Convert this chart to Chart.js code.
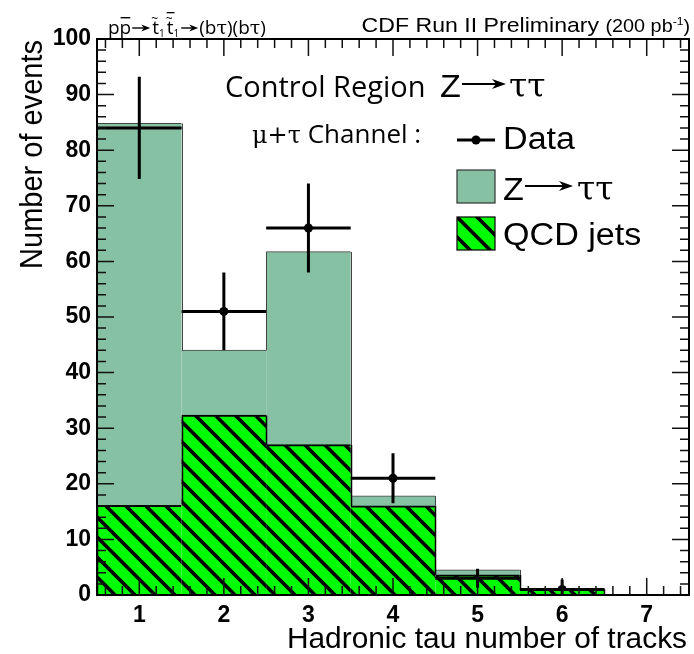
<!DOCTYPE html>
<html><head><meta charset="utf-8">
<script src="https://cdn.jsdelivr.net/npm/chart.js@4/dist/chart.umd.min.js"></script>
<style>html,body{margin:0;padding:0;background:#fff;}canvas{display:block;}</style>
</head><body>
<canvas id="c" width="694" height="654"></canvas>
<script>
// ---- data ----
const nTracks     = [1, 2, 3, 4, 5, 6, 7];
const xTickLabels = ['1', '2', '3', '4', '5', '6', '7'];
const yTickLabels = ['0', '10', '20', '30', '40', '50', '60', '70', '80', '90', '100'];
const qcdJets     = [16.1, 32.3, 27.0, 16.0, 3.6, 1.0, 0];
const zTauTau     = [68.7, 11.7, 34.7, 1.8, 0.9, 0.1, 0];
const dataCounts  = [84, 51, 66, 21, 3, 1, 0];
const dataErrLow  = [9.2, 7.0, 8.0, 4.5, 1.7, 1.0, 0];
const dataErrHigh = [9.2, 7.0, 8.0, 4.5, 1.7, 1.8, 0];

const Z_COLOR = '#86c1a3';
const QCD_GREEN = '#00ff00';
const SANS = '"Liberation Sans", Arial, sans-serif';
const MYR = '"Open Sans", sans-serif';
const SERIF = '"DejaVu Serif", serif';
const STRETCH = 1.1;

function makeHatch() {
  const s = 20, c = document.createElement('canvas');
  c.width = s; c.height = s;
  const g = c.getContext('2d');
  g.fillStyle = QCD_GREEN; g.fillRect(0, 0, s, s);
  g.strokeStyle = '#000'; g.lineWidth = 3.6;
  g.beginPath();
  for (const o of [-s, 0, s]) { g.moveTo(o - s, -s); g.lineTo(o + 2 * s, 2 * s); }
  g.stroke();
  return g.createPattern(c, 'repeat');
}
const hatch = makeHatch();

function arrow(ctx, x1, x2, y, hl, hw, lw) {
  ctx.save();
  ctx.lineWidth = lw; ctx.strokeStyle = '#000'; ctx.fillStyle = '#000';
  ctx.beginPath(); ctx.moveTo(x1, y); ctx.lineTo(x2 - hl * 0.6, y); ctx.stroke();
  ctx.beginPath();
  ctx.moveTo(x2, y); ctx.lineTo(x2 - hl, y - hw / 2); ctx.lineTo(x2 - hl * 0.7, y); ctx.lineTo(x2 - hl, y + hw / 2);
  ctx.closePath(); ctx.fill();
  ctx.restore();
}
function txt(ctx, s, x, y, font, stretch) {
  stretch = stretch || STRETCH;
  ctx.save();
  ctx.font = font;
  ctx.translate(x, y); ctx.scale(stretch, 1);
  ctx.fillText(s, 0, 0);
  const w = ctx.measureText(s).width * stretch;
  ctx.restore();
  return w;
}

// step outlines: vertical edges between bins (histogram contour)
const stepEdges = {
  id: 'stepEdges',
  afterDatasetsDraw(chart) {
    const ctx = chart.ctx, xs = chart.scales.x, ys = chart.scales.y;
    const total = qcdJets.map((q, i) => q + zTauTau[i]);
    const series = [[total, '#444', 1], [qcdJets, '#000', 1.5]];
    ctx.save();
    for (const [h, col, lw] of series) {
      ctx.strokeStyle = col; ctx.lineWidth = lw;
      ctx.beginPath();
      for (let i = 0; i <= h.length; i++) {
        const left = i > 0 ? h[i - 1] : 0, right = i < h.length ? h[i] : 0;
        if (left === right) continue;
        const edge = i < h.length ? nTracks[i] - 0.5 : nTracks[h.length - 1] + 0.5;
        const px = Math.round(xs.getPixelForValue(edge)) + 0.5;
        ctx.moveTo(px, ys.getPixelForValue(Math.min(left, right)));
        ctx.lineTo(px, ys.getPixelForValue(Math.max(left, right)));
      }
      ctx.stroke();
    }
    ctx.restore();
  }
};

const errorBars = {
  id: 'errorBars',
  afterDatasetsDraw(chart) {
    const ctx = chart.ctx, xs = chart.scales.x, ys = chart.scales.y;
    ctx.save();
    ctx.strokeStyle = '#000'; ctx.lineWidth = 3;
    dataCounts.forEach((v, i) => {
      if (v <= 0) return;
      const px = xs.getPixelForValue(nTracks[i]);
      const py = ys.getPixelForValue(v);
      ctx.beginPath();
      ctx.moveTo(xs.getPixelForValue(nTracks[i] - 0.5), py);
      ctx.lineTo(xs.getPixelForValue(nTracks[i] + 0.5), py);
      ctx.moveTo(px, ys.getPixelForValue(v - dataErrLow[i]));
      ctx.lineTo(px, ys.getPixelForValue(v + dataErrHigh[i]));
      ctx.stroke();
    });
    ctx.restore();
  }
};

const frameTicks = {
  id: 'frameTicks',
  afterDraw(chart) {
    const ctx = chart.ctx, xs = chart.scales.x, ys = chart.scales.y, a = chart.chartArea;
    ctx.save();
    ctx.strokeStyle = '#111'; ctx.lineWidth = 1.5;
    ctx.beginPath();
    for (let k = 0; k <= 50; k++) {
      const v = k * 2, py = ys.getPixelForValue(v), L = (v % 10 === 0) ? 17 : 9;
      ctx.moveTo(a.left, py); ctx.lineTo(a.left + L, py);
      ctx.moveTo(a.right, py); ctx.lineTo(a.right - L, py);
    }
    for (let k = 3; k <= 37; k++) {
      const v = k / 5, px = xs.getPixelForValue(v), L = (k % 5 === 0) ? 17 : 9;
      ctx.moveTo(px, a.bottom); ctx.lineTo(px, a.bottom - L);
      ctx.moveTo(px, a.top); ctx.lineTo(px, a.top + L);
    }
    ctx.stroke();
    ctx.lineWidth = 2; ctx.strokeStyle = '#000';
    ctx.strokeRect(a.left, a.top, a.right - a.left, a.bottom - a.top);
    ctx.restore();

    // ---- texts ----
    ctx.save();
    ctx.fillStyle = '#000'; ctx.textBaseline = 'alphabetic'; ctx.textAlign = 'left';
    ctx.save();
    ctx.font = '29px ' + SANS;
    ctx.textAlign = 'right';
    ctx.translate(42, 40); ctx.rotate(-Math.PI / 2); ctx.scale(1, STRETCH);
    ctx.fillText('Number of events', 0, 0);
    ctx.restore();
    ctx.save();
    ctx.font = '29px ' + SANS; ctx.textAlign = 'right';
    ctx.translate(687, 648); ctx.scale(1.03, 1);
    ctx.fillText('Hadronic tau number of tracks', 0, 0);
    ctx.restore();

    // top-left process
    let x = 108, y = 34;
    const f = '19px ' + MYR;
    x += txt(ctx, 'p', x, y, f, 1);
    const wp = txt(ctx, 'p', x, y, f, 1);
    ctx.fillRect(x + 1, y - 17, wp - 2, 1.4);
    x += wp + 1;
    arrow(ctx, x, x + 18, y - 6, 9, 7, 1.4); x += 20;
    for (let j = 0; j < 2; j++) {
      const wt = txt(ctx, 't', x, y, f, 1);
      txt(ctx, '~', x - 1, y - 11, '12px ' + MYR, 1);
      if (j === 1) ctx.fillRect(x, y - 22, wt + 1, 1.3);
      x += wt;
      x += txt(ctx, '1', x, y + 3, '10px ' + MYR, 1) + 2;
    }
    arrow(ctx, x, x + 17, y - 6, 9, 7, 1.4); x += 18;
    x += txt(ctx, '(b', x, y, f, 1);
    x += txt(ctx, '\u03c4', x, y, '19px ' + SERIF, 1);
    x += txt(ctx, ')(b', x, y, f, 1);
    x += txt(ctx, '\u03c4', x, y, '19px ' + SERIF, 1);
    x += txt(ctx, ')', x, y, f, 1);

    // top-right CDF label
    const p1 = 'CDF Run II Preliminary ';
    ctx.font = '21px ' + SANS; const w1 = ctx.measureText(p1).width;
    ctx.font = '18px ' + SANS; const w2 = ctx.measureText('(200 pb').width;
    ctx.font = '11px ' + SANS; const w3 = ctx.measureText('-1').width;
    ctx.font = '18px ' + SANS; const w4 = ctx.measureText(')').width;
    x = 690 - (w1 + w2 + w3 + w4) * STRETCH; y = 32;
    x += txt(ctx, p1, x, y, '21px ' + SANS);
    x += txt(ctx, '(200 pb', x, y, '18px ' + SANS);
    x += txt(ctx, '-1', x, y - 7, '11px ' + SANS);
    txt(ctx, ')', x, y, '18px ' + SANS);

    // control region header
    txt(ctx, 'Control Region', 225, 97, '29px ' + MYR, 1.0);
    txt(ctx, 'Z', 440, 97, '31px ' + SANS);
    arrow(ctx, 462, 506, 84, 14, 10, 2);
    txt(ctx, '\u03c4\u03c4', 509, 97, '33px ' + SERIF, 1.0);
    x = 252;
    x += txt(ctx, '\u03bc+\u03c4', x, 143, '24px ' + SERIF, 1.0);
    txt(ctx, ' Channel :', x, 143, '26px ' + MYR, 1.0);

    // legend
    ctx.strokeStyle = '#000'; ctx.lineWidth = 3;
    ctx.beginPath(); ctx.moveTo(457, 140); ctx.lineTo(495, 140); ctx.stroke();
    ctx.beginPath(); ctx.arc(476, 140, 4.5, 0, Math.PI * 2); ctx.fill();
    txt(ctx, 'Data', 503, 149, '31px ' + SANS);
    ctx.fillStyle = Z_COLOR; ctx.fillRect(457, 170, 38, 33);
    ctx.lineWidth = 1.2; ctx.strokeStyle = '#333'; ctx.strokeRect(457, 170, 38, 33);
    ctx.fillStyle = '#000';
    txt(ctx, 'Z', 503, 200, '31px ' + SANS);
    arrow(ctx, 525, 573, 186, 14, 10, 2);
    txt(ctx, '\u03c4\u03c4', 577, 200, '33px ' + SERIF, 1.0);
    ctx.fillStyle = hatch; ctx.fillRect(457, 217, 38, 33);
    ctx.strokeStyle = '#000'; ctx.strokeRect(457, 217, 38, 33);
    ctx.fillStyle = '#000';
    txt(ctx, 'QCD jets', 503, 245, '31px ' + SANS);
    ctx.restore();
  }
};

new Chart(document.getElementById('c'), {
  data: {
    datasets: [
      {
        type: 'bar', label: 'QCD jets', stack: 'mc',
        data: nTracks.map((x, i) => ({ x, y: qcdJets[i] })),
        backgroundColor: hatch, borderColor: '#000',
        borderWidth: { top: 2, left: 0, right: 0, bottom: 0 }, borderSkipped: 'start',
        barPercentage: 1, categoryPercentage: 1, inflateAmount: 0.6
      },
      {
        type: 'bar', label: 'Z\u2192\u03c4\u03c4', stack: 'mc',
        data: nTracks.map((x, i) => ({ x, y: zTauTau[i] })),
        backgroundColor: Z_COLOR, borderColor: '#444',
        borderWidth: { top: 1, left: 0, right: 0, bottom: 0 }, borderSkipped: 'start',
        barPercentage: 1, categoryPercentage: 1, inflateAmount: 0.6
      },
      {
        type: 'line', label: 'Data', stack: 'data',
        data: nTracks.map((x, i) => ({ x, y: dataCounts[i] })),
        showLine: false,
        pointRadius: c => dataCounts[c.dataIndex] > 0 ? 4.5 : 0,
        pointBackgroundColor: '#000', pointBorderColor: '#000', pointBorderWidth: 0
      }
    ]
  },
  options: {
    responsive: false, animation: false, devicePixelRatio: 1,
    layout: { padding: { left: 0, top: 39, right: 5, bottom: 0 } },
    plugins: { legend: { display: false }, tooltip: { enabled: false }, title: { display: false } },
    scales: {
      x: {
        type: 'linear', min: 0.5, max: 7.5, stacked: true, offset: false,
        grid: { display: false, drawTicks: false }, border: { display: false },
        afterBuildTicks: s => { s.ticks = nTracks.map(v => ({ value: v })); },
        afterFit: s => { s.height = 59; },
        ticks: {
          padding: 7, color: '#000', maxRotation: 0, autoSkip: false,
          font: { family: SANS, size: 23, weight: 'bold' },
          callback: (v) => xTickLabels[nTracks.indexOf(v)]
        }
      },
      y: {
        type: 'linear', min: 0, max: 100, stacked: true,
        grid: { display: false, drawTicks: false }, border: { display: false },
        afterBuildTicks: s => { s.ticks = yTickLabels.map(t => ({ value: Number(t) })); },
        afterFit: s => { s.width = 97; },
        ticks: {
          padding: 6, color: '#000', autoSkip: false,
          font: { family: SANS, size: 23, weight: 'bold' },
          callback: (v) => yTickLabels[yTickLabels.indexOf(String(v))]
        }
      }
    }
  },
  plugins: [stepEdges, errorBars, frameTicks]
});
</script>
</body></html>
